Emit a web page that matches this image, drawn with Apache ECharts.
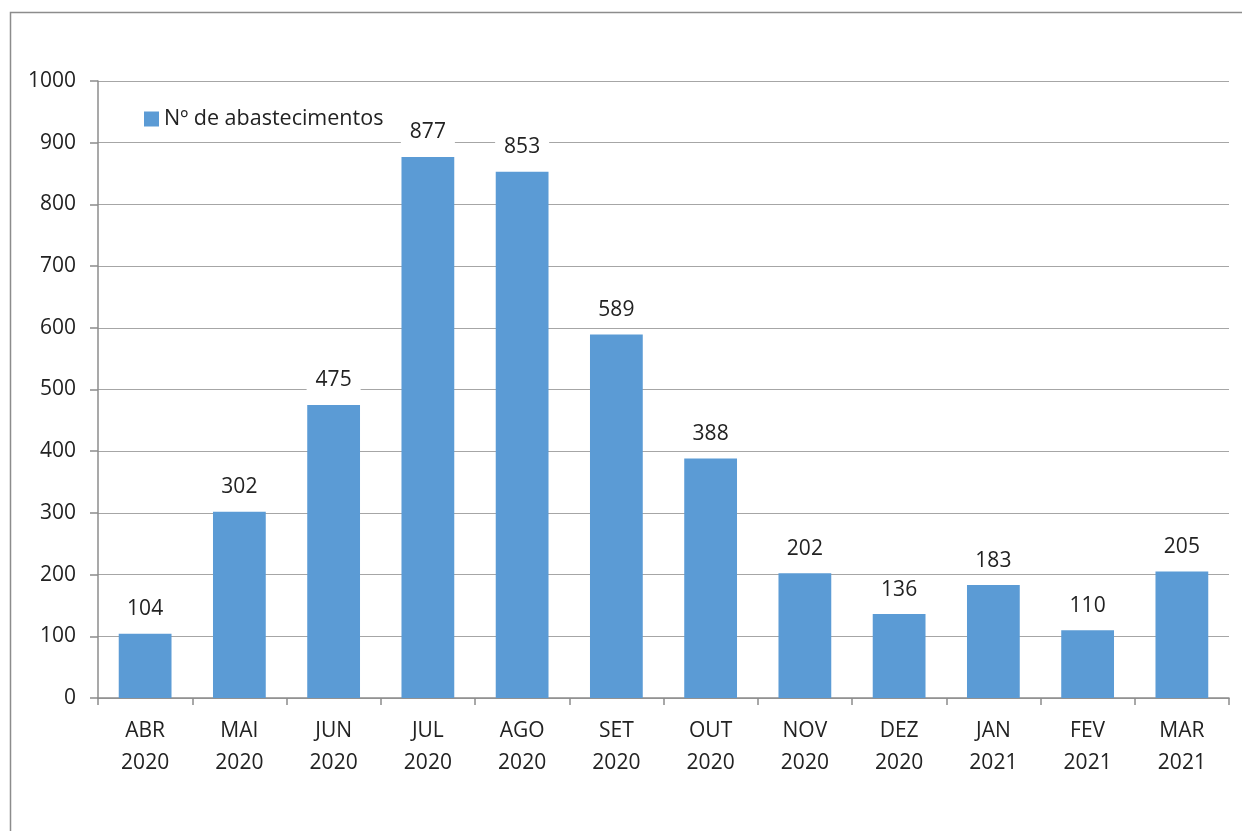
<!DOCTYPE html>
<html><head><meta charset="utf-8">
<script src="https://cdn.jsdelivr.net/npm/echarts@6/dist/echarts.min.js"></script>
<style>html,body{margin:0;padding:0;background:#fff}#c{width:1242px;height:831px}</style>
</head><body><div id="c"></div>
<script>
const categories = ['ABR\n2020','MAI\n2020','JUN\n2020','JUL\n2020','AGO\n2020','SET\n2020','OUT\n2020','NOV\n2020','DEZ\n2020','JAN\n2021','FEV\n2021','MAR\n2021'];
const values = [104,302,475,877,853,589,388,202,136,183,110,205];
const seriesName = 'Nº de abastecimentos';
const yTicks = {min:0, max:1000, interval:100};

const chart = echarts.init(document.getElementById('c'), null, {renderer:'canvas'});
const font = '"Open Sans", "Noto Sans", sans-serif';
chart.setOption({
  animation:false,
  backgroundColor:'#fff',
  graphic:[{type:'rect', shape:{x:10.5,y:12.5,width:1260,height:860}, style:{fill:'none',stroke:'#8c8c8c',lineWidth:1.5}, silent:true}],
  legend:{show:true, left:139, top:103, itemWidth:15, itemHeight:15, icon:'rect',
    textStyle:{fontFamily:font,fontSize:21.5,color:'#222'}, itemGap:10, data:[seriesName]},
  grid:{left:98, right:13, top:81, bottom:133, containLabel:false},
  xAxis:{type:'category', data:categories,
    axisLine:{lineStyle:{color:'#8c8c8c',width:1.5}},
    axisTick:{show:true, length:7, alignWithLabel:false, lineStyle:{color:'#8c8c8c',width:1.5}},
    axisLabel:{fontFamily:font,fontSize:21,color:'#222',margin:17,lineHeight:32,interval:0}},
  yAxis:{type:'value', min:yTicks.min, max:yTicks.max, interval:yTicks.interval,
    axisLine:{show:true,lineStyle:{color:'#8c8c8c',width:1.5}},
    axisTick:{show:true,length:8,lineStyle:{color:'#8c8c8c',width:1.5}},
    splitLine:{show:true,lineStyle:{color:'#a6a6a6',width:1.2}},
    axisLabel:{fontFamily:font,fontSize:21,color:'#222',margin:22, formatter:v=>String(v)}},
  series:[{name:seriesName, type:'bar', data:values, barWidth:'56%',
    itemStyle:{color:'#5b9bd5'},
    label:{show:true, position:'top', distance:12, fontFamily:font, fontSize:21, color:'#222',
      backgroundColor:'#fff', padding:[2,9,2,9]}}]
});
</script></body></html>
